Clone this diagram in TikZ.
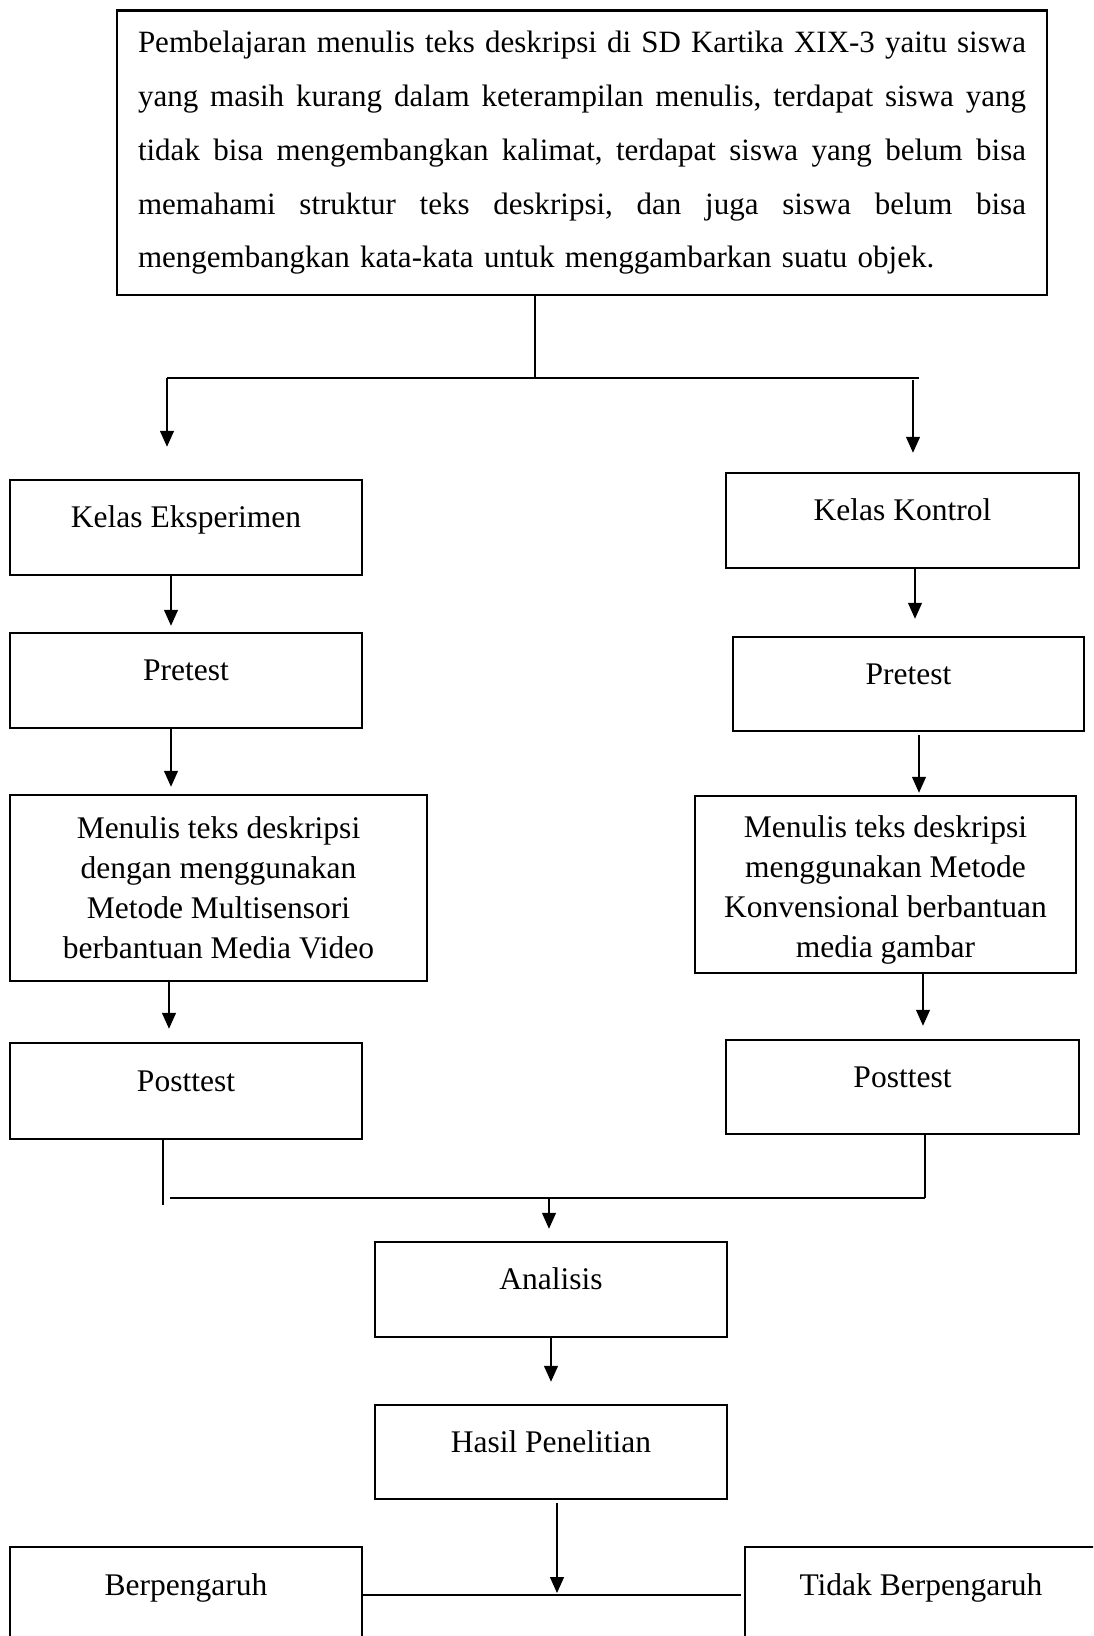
\documentclass[tikz,border=0pt]{standalone}
\usepackage{fontspec}
\setmainfont{Liberation Serif}
\usetikzlibrary{arrows.meta}
\newcommand\jline[1]{\leavevmode\hbox to 888pt{\frenchspacing\spaceskip=0.25em plus 1fil\relax #1}}
\begin{document}
\begin{tikzpicture}[x=1pt,y=-1pt,
  ln/.style={line width=1.3pt},
  arr/.style={line width=1.3pt,-{Triangle[width=14pt,length=16pt]}},
  topbox/.style={draw,line width=2.8pt,inner xsep=21pt,inner ysep=0pt,text width=888pt,align=left,minimum width=930pt,minimum height=284.5pt,font=\fontsize{31}{53.9}\selectfont},
  lbox/.style={draw,line width=2.5pt,inner sep=0pt,font=\fontsize{31.5}{40}\selectfont},
  onebox/.style n args={2}{lbox,minimum width=#1pt,text height=#2pt/2,text depth=#2pt/2},
  multibox/.style n args={2}{lbox,align=center,minimum width=#1pt,minimum height=#2pt}]
\useasboundingbox (0,0) rectangle (1093,1636);
\fill[white] (0,0) rectangle (1093,1636);
\clip (0,0) rectangle (1093,1636);

% nodes
\node[topbox] (top) at (582,152.75) {%
\jline{Pembelajaran menulis teks deskripsi di SD Kartika XIX-3 yaitu siswa}\\
\jline{yang masih kurang dalam keterampilan menulis, terdapat siswa yang}\\
\jline{tidak bisa mengembangkan kalimat, terdapat siswa yang belum bisa}\\
\jline{memahami struktur teks deskripsi, dan juga siswa belum bisa}\\
mengembangkan kata-kata untuk menggambarkan suatu objek.};

\node[onebox={352}{95}] (kE) at (186,527.5) {Kelas Eksperimen};
\node[onebox={353}{95}] (kK) at (902.5,520.5) {Kelas Kontrol};
\node[onebox={352}{95}] (pE) at (186,680.5) {Pretest};
\node[onebox={351}{94}] (pK) at (908.5,684) {Pretest};
\node[multibox={417}{186}] (mE) at (218.5,888) {Menulis teks deskripsi\\dengan menggunakan\\Metode Multisensori\\berbantuan Media Video};
\node[multibox={381}{177}] (mK) at (885.5,884.5) {\rule{0pt}{32pt}Menulis teks deskripsi\\menggunakan Metode\\Konvensional berbantuan\\media gambar};
\node[onebox={352}{96}] (psE) at (186,1091) {Posttest};
\node[onebox={353}{94}] (psK) at (902.5,1087) {Posttest};
\node[onebox={352}{95}] (an) at (551,1289.5) {Analisis};
\node[onebox={352}{94}] (hs) at (551,1452) {Hasil Penelitian};
\node[onebox={352}{96}] (bp) at (186,1595) {Berpengaruh};
\node[onebox={352}{96}] (tb) at (921,1595) {Tidak Berpengaruh};

% helper coordinates
\coordinate (tv) at (535,378);
\coordinate (hl) at (167,378);
\coordinate (hr) at (919,378);
\coordinate (dl) at (167,378);
\coordinate (dr) at (913,380);
\coordinate (c171) at (171,0);
\coordinate (c169) at (169,0);
\coordinate (c915) at (915,0);
\coordinate (c919) at (919,0);
\coordinate (c923) at (923,0);
\coordinate (c163) at (163,0);
\coordinate (c925) at (925,0);
\coordinate (jl) at (163,1205);
\coordinate (jh) at (170,1198);
\coordinate (jr) at (925,1198);
\coordinate (jm) at (549,1198);
\coordinate (c551) at (551,0);
\coordinate (bm) at (557,1595);

% connectors top
\draw[ln] (top.south -| tv) -- (tv);
\draw[ln] (hl) -- (hr);
\draw[arr,shorten >=32pt] (dl) -- (dl |- kE.north);
\draw[arr,shorten >=19pt] (dr) -- (dr |- kK.north);

% left column
\draw[arr,shorten >=6pt] (kE.south -| c171) -- (pE.north -| c171);
\draw[arr,shorten >=7pt] (pE.south -| c171) -- (mE.north -| c171);
\draw[arr,shorten >=13pt] (mE.south -| c169) -- (psE.north -| c169);

% right column
\draw[arr,shorten >=17pt] (kK.south -| c915) -- (pK.north -| c915);
\draw[arr,shorten <=3pt,shorten >=2pt] (pK.south -| c919) -- (mK.north -| c919);
\draw[arr,shorten >=13pt] (mK.south -| c923) -- (psK.north -| c923);

% merge
\draw[ln] (psE.south -| c163) -- (jl);
\draw[ln] (psK.south -| c925) -- (jr);
\draw[ln] (jh) -- (jr);
\draw[arr,shorten >=12pt] (jm) -- (jm |- an.north);
\draw[arr,shorten >=22pt] (an.south -| c551) -- (hs.north -| c551);
\draw[arr,shorten <=3pt,shorten >=2pt] (hs.south -| bm) -- (bm);
\draw[ln,shorten >=3pt] (bp.east) -- (tb.west);
\end{tikzpicture}
\end{document}
